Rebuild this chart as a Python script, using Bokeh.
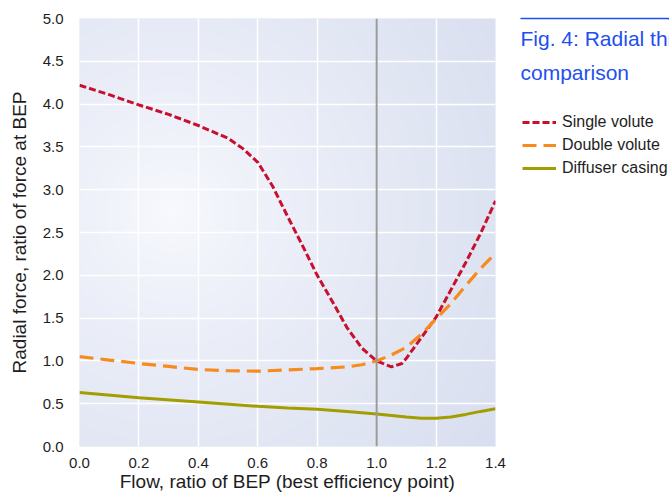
import numpy as np
from bokeh.plotting import figure
from bokeh.layouts import row
from bokeh.models import (Range1d, FixedTicker, NumeralTickFormatter, Span, Label,
                          Legend, LegendItem)
from bokeh.embed import file_html
from bokeh.resources import INLINE

# ---- data ----
single_x = [0.0, 0.1, 0.2, 0.3, 0.4, 0.5, 0.55, 0.6, 0.65, 0.7, 0.75, 0.8, 0.85, 0.9,
            0.95, 1.0, 1.05, 1.085, 1.1, 1.15, 1.2, 1.25, 1.3, 1.35, 1.4]
single_y = [4.22, 4.11, 3.99, 3.88, 3.75, 3.60, 3.48, 3.32, 3.04, 2.69, 2.35, 2.00, 1.70, 1.39,
            1.15, 1.00, 0.93, 0.97, 1.03, 1.27, 1.51, 1.83, 2.15, 2.49, 2.87]

double_x = [0.0, 0.1, 0.2, 0.3, 0.4, 0.5, 0.6, 0.7, 0.8, 0.9, 0.95, 1.0, 1.05, 1.1,
            1.15, 1.2, 1.25, 1.3, 1.35, 1.4]
double_y = [1.05, 1.01, 0.97, 0.935, 0.90, 0.885, 0.88, 0.895, 0.91, 0.93, 0.955, 1.0, 1.07, 1.16,
            1.31, 1.49, 1.67, 1.88, 2.08, 2.26]

diffuser_x = [0.0, 0.2, 0.4, 0.6, 0.7, 0.8, 0.9, 1.0, 1.1, 1.15, 1.2, 1.25, 1.3, 1.35, 1.4]
diffuser_y = [0.63, 0.57, 0.52, 0.47, 0.45, 0.435, 0.41, 0.38, 0.345, 0.33, 0.33, 0.345, 0.375, 0.41, 0.44]

series_names = ["Single volute", "Double volute", "Diffuser casing"]
x_ticks = [0.0, 0.2, 0.4, 0.6, 0.8, 1.0, 1.2, 1.4]
y_ticks = [0.0, 0.5, 1.0, 1.5, 2.0, 2.5, 3.0, 3.5, 4.0, 4.5, 5.0]
bep = 1.0

title_lines = ["Fig. 4: Radial thrust", "comparison"]
x_title = "Flow, ratio of BEP (best efficiency point)"
y_title = "Radial force, ratio of force at BEP"

FONT = "Liberation Sans"
TXT = "#1e1e1e"
RED = "#c8102e"
ORANGE = "#f68b1f"
OLIVE = "#a39e00"
BLUE = "#1f4ff0"
RED_DASH = "7 3"
ORANGE_DASH = "14 7"

H = 494
p = figure(width=508, height=H, output_backend="svg", toolbar_location=None,
           x_range=Range1d(0, 1.4), y_range=Range1d(0, 5),
           min_border_left=79, min_border_right=13, min_border_top=18, min_border_bottom=48)
p.outline_line_color = None
p.background_fill_color = "#e3e7f4"
p.border_fill_color = "white"

# radial background gradient (styling only)
nx, ny = 200, 200
gx = np.linspace(0, 1.4, nx)
gy = np.linspace(0, 5, ny)
GX, GY = np.meshgrid(gx, gy)
dpx = (GX - 0.31) * 297.5
dpy = (GY - 2.75) * 85.6
d = np.clip(np.sqrt(dpx ** 2 + dpy ** 2) / 400.0, 0, 1) ** 0.75
c0 = np.array([249, 250, 254])
c1 = np.array([217, 223, 240])
img = np.zeros((ny, nx), dtype=np.uint32)
view = img.view(dtype=np.uint8).reshape((ny, nx, 4))
for k in range(3):
    view[:, :, k] = (c0[k] + (c1[k] - c0[k]) * d).astype(np.uint8)
view[:, :, 3] = 255
bg = p.image_rgba(image=[img], x=0, y=0, dw=1.4, dh=5)
bg.level = "image"

# grid
p.xgrid.ticker = FixedTicker(ticks=x_ticks)
p.ygrid.ticker = FixedTicker(ticks=y_ticks)
for g in (p.xgrid, p.ygrid):
    g.grid_line_color = "white"
    g.grid_line_width = 1.5

# axes
for ax in (p.xaxis, p.yaxis):
    ax.axis_line_color = None
    ax.major_tick_line_color = None
    ax.minor_tick_line_color = None
    ax.major_label_text_font = FONT
    ax.major_label_text_font_size = "15px"
    ax.major_label_text_color = TXT
    ax.formatter = NumeralTickFormatter(format="0.0")
    ax.axis_label_text_font = FONT
    ax.axis_label_text_font_size = "19px"
    ax.axis_label_text_font_style = "normal"
    ax.axis_label_text_color = TXT
p.xaxis.ticker = FixedTicker(ticks=x_ticks)
p.yaxis.ticker = FixedTicker(ticks=y_ticks)
p.xaxis.major_label_standoff = 5
p.yaxis.major_label_standoff = 10
p.xaxis.axis_label = x_title
p.yaxis.axis_label = y_title
p.xaxis.axis_label_standoff = 0
p.yaxis.axis_label_standoff = 10

# BEP line
p.add_layout(Span(location=bep, dimension="height", line_color="#9a9a9a", line_width=2))

# series
r1 = p.line(single_x, single_y, line_color=RED, line_width=3, line_dash=RED_DASH)
r2 = p.line(double_x, double_y, line_color=ORANGE, line_width=3.2, line_dash=ORANGE_DASH)
r3 = p.line(diffuser_x, diffuser_y, line_color=OLIVE, line_width=3)

# ---- right-hand panel: title + legend (frame is aligned with the main frame) ----
s = figure(width=161, height=H, output_backend="svg", toolbar_location=None,
           x_range=Range1d(10, 11), y_range=Range1d(10, 11),
           min_border_left=0, min_border_right=0, min_border_top=0, min_border_bottom=0)
s.axis.visible = False
s.grid.visible = False
s.background_fill_color = "white"
s.border_fill_color = "white"
# blue rule on top edge only
s.outline_line_color = BLUE
s.outline_line_width = 1.5
s.outline_line_dash = "0 12 149 3000"

# legend keys (drawn off-view in this panel; same styles as main series)
k1 = s.line(single_x, single_y, line_color=RED, line_width=3, line_dash=RED_DASH)
k2 = s.line(double_x, double_y, line_color=ORANGE, line_width=3.2, line_dash=ORANGE_DASH)
k3 = s.line(diffuser_x, diffuser_y, line_color=OLIVE, line_width=3)

FB = 446  # frame bottom in page pixels (shared with main frame)
legend = Legend(items=[LegendItem(label=series_names[0], renderers=[k1]),
                       LegendItem(label=series_names[1], renderers=[k2]),
                       LegendItem(label=series_names[2], renderers=[k3])],
                location=(14, FB - 178), padding=0, margin=0, spacing=3,
                glyph_width=34, glyph_height=20, label_height=20, label_standoff=6,
                label_text_font=FONT, label_text_font_size="16px", label_text_color=TXT,
                border_line_color=None, background_fill_alpha=0)
s.add_layout(legend)

s.add_layout(Label(x=12, y=FB - 38.3, x_units="screen", y_units="screen", text=title_lines[0],
                   text_align="left", text_baseline="alphabetic", text_font=FONT,
                   text_font_size="21px", text_color=BLUE))
s.add_layout(Label(x=12, y=FB - 71.8, x_units="screen", y_units="screen", text=title_lines[1],
                   text_align="left", text_baseline="alphabetic", text_font=FONT,
                   text_font_size="21px", text_color=BLUE))

layout = row(p, s)
open("out.html", "w").write(file_html(layout, INLINE))
